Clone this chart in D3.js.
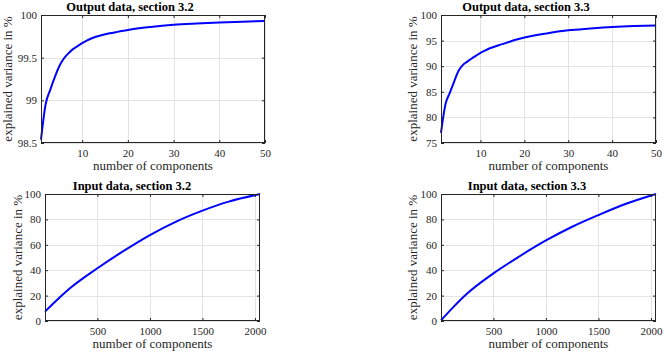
<!DOCTYPE html>
<html>
<head>
<meta charset="utf-8">
<script src="https://cdn.jsdelivr.net/npm/d3@7"></script>
<style>
  body { margin: 0; background: #fff; }
  svg text { font-family: "Liberation Serif", "DejaVu Serif", serif; fill: #262626; }
</style>
</head>
<body>
<div id="chart"></div>
<script>
// output data: explained variance for the first 50 components
var outComp = [1, 2, 3, 4, 5, 6, 7, 8, 9, 10, 11, 12, 14, 16, 18, 20, 25, 30, 35, 40, 45, 50];
var outVar32 = [98.54, 98.95, 99.12, 99.27, 99.40, 99.49, 99.55, 99.60, 99.635, 99.67, 99.70, 99.725,
                99.76, 99.785, 99.805, 99.825, 99.86, 99.885, 99.90, 99.912, 99.922, 99.93];
var outVar33 = [77.0, 82.5, 84.8, 87.0, 89.1, 90.25, 90.9, 91.5, 92.05, 92.6, 93.05, 93.45,
                94.05, 94.6, 95.15, 95.6, 96.4, 97.0, 97.35, 97.65, 97.85, 97.97];

// input data: explained variance over all components
var inComp = [1, 125, 250, 500, 750, 1000, 1250, 1500, 1750, 2048];
var inVar32 = [7.4, 17.3, 26.5, 41.5, 55.2, 67.7, 78.3, 86.9, 94.0, 100];
var inVar33 = [0.5, 11.5, 21.6, 37.5, 51.0, 63.4, 74.2, 83.4, 91.9, 100];

var outTicksX = [10, 20, 30, 40, 50];
var inTicksX = [500, 1000, 1500, 2000];
var ticks32 = [98.5, 99, 99.5, 100];
var ticks33 = [75, 80, 85, 90, 95, 100];
var inTicksY = [0, 20, 40, 60, 80, 100];

var titles = ["Output data, section 3.2", "Output data, section 3.3",
              "Input data, section 3.2", "Input data, section 3.3"];

var width = 664, height = 354;

var svg = d3.select("#chart").append("svg")
    .attr("width", width)
    .attr("height", height);

// panel layout (pixel boxes of the axes)
var panels = [
  {title: titles[0], x: outComp, y: outVar32, xd: [1, 50], yd: [98.5, 100], xt: outTicksX, yt: ticks32,
   box: {l: 41, r: 265, t: 15, b: 143}, titleX: 130, ylabX: 8},
  {title: titles[1], x: outComp, y: outVar33, xd: [1, 50], yd: [75, 100], xt: outTicksX, yt: ticks33,
   box: {l: 441, r: 656, t: 15, b: 143}, titleX: 526, ylabX: 413},
  {title: titles[2], x: inComp, y: inVar32, xd: [1, 2048], yd: [0, 100], xt: inTicksX, yt: inTicksY,
   box: {l: 45, r: 260, t: 194, b: 321}, titleX: 132, ylabX: 18},
  {title: titles[3], x: inComp, y: inVar33, xd: [1, 2048], yd: [0, 100], xt: inTicksX, yt: inTicksY,
   box: {l: 441, r: 656, t: 194, b: 321}, titleX: 527, ylabX: 413}
];

panels.forEach(function(p) {
  var b = p.box;
  var x = d3.scaleLinear().domain(p.xd).range([b.l, b.r]);
  var y = d3.scaleLinear().domain(p.yd).range([b.b, b.t]);
  var g = svg.append("g");

  // grid
  g.append("g").selectAll("line").data(p.xt).enter().append("line")
    .attr("x1", function(d) { return Math.round(x(d)) + 0.5; })
    .attr("x2", function(d) { return Math.round(x(d)) + 0.5; })
    .attr("y1", b.t).attr("y2", b.b)
    .attr("stroke", "#e3e3e3");
  g.append("g").selectAll("line").data(p.yt).enter().append("line")
    .attr("y1", function(d) { return Math.round(y(d)) + 0.5; })
    .attr("y2", function(d) { return Math.round(y(d)) + 0.5; })
    .attr("x1", b.l).attr("x2", b.r)
    .attr("stroke", "#e3e3e3");

  // the curve
  var line = d3.line()
    .x(function(d, i) { return x(p.x[i]); })
    .y(function(d) { return y(d); })
    .curve(d3.curveMonotoneX);
  g.append("path")
    .datum(p.y)
    .attr("d", line)
    .attr("fill", "none")
    .attr("stroke", "#0000ff")
    .attr("stroke-width", 2);

  // axes with inward ticks, mirrored on top/right
  var tl = 3;
  g.append("g").attr("transform", "translate(0," + b.b + ")")
    .call(d3.axisBottom(x).tickValues(p.xt).tickSizeInner(-tl).tickSizeOuter(0).tickPadding(6)
      .tickFormat(d3.format("d")));
  g.append("g").attr("transform", "translate(0," + b.t + ")")
    .call(d3.axisTop(x).tickValues(p.xt).tickSizeInner(-tl).tickSizeOuter(0).tickFormat(""));
  g.append("g").attr("transform", "translate(" + b.l + ",0)")
    .call(d3.axisLeft(y).tickValues(p.yt).tickSizeInner(-tl).tickSizeOuter(0).tickPadding(4)
      .tickFormat(function(d) { return String(d); }));
  g.append("g").attr("transform", "translate(" + b.r + ",0)")
    .call(d3.axisRight(y).tickValues(p.yt).tickSizeInner(-tl).tickSizeOuter(0).tickFormat(""));

  g.selectAll(".domain").remove();
  g.selectAll(".tick line").attr("stroke", "#262626");
  g.selectAll(".tick text").style("font-size", "11px").attr("fill", "#262626");

  // box
  g.append("rect")
    .attr("x", b.l + 0.5).attr("y", b.t + 0.5)
    .attr("width", b.r - b.l - 1).attr("height", b.b - b.t - 1)
    .attr("fill", "none")
    .attr("stroke", "#262626");

  // title
  g.append("text")
    .attr("x", p.titleX).attr("y", b.t - 4)
    .attr("text-anchor", "middle")
    .style("font-size", "12.5px")
    .style("font-weight", "bold")
    .style("fill", "#000")
    .text(p.title);

  // axis labels
  g.append("text")
    .attr("x", (b.l + b.r) / 2).attr("y", b.b + 27)
    .attr("text-anchor", "middle")
    .style("font-size", "13px")
    .text("number of components");
  g.append("text")
    .attr("transform", "translate(" + (p.ylabX + 4) + "," + ((b.t + b.b) / 2) + ") rotate(-90)")
    .attr("text-anchor", "middle")
    .style("font-size", "13px")
    .text("explained variance in %");
});
</script>
</body>
</html>
